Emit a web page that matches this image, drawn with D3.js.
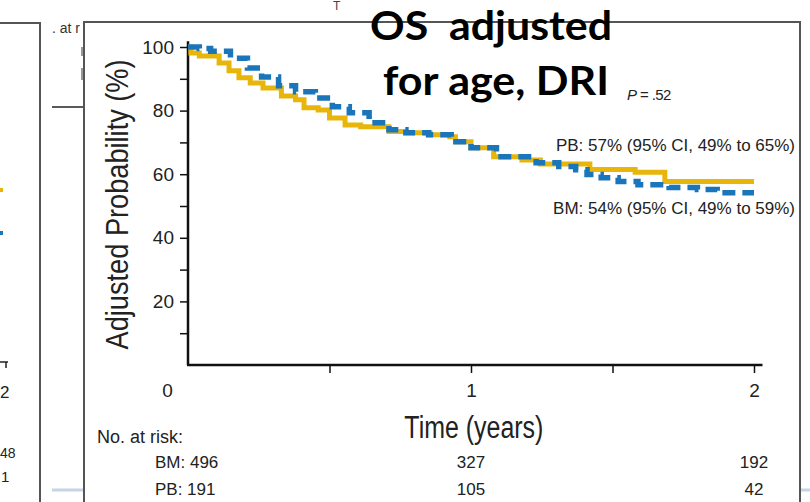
<!DOCTYPE html>
<html>
<head>
<meta charset="utf-8">
<script src="https://cdn.jsdelivr.net/npm/d3@7"></script>
<style>
body { margin: 0; background: #fff; }
svg { display: block; }
</style>
</head>
<body>
<div id="chart"></div>
<script>
// values (time in years, adjusted probability in %)
var bmTimes  = [0, 0.04, 0.08, 0.15, 0.21, 0.26, 0.32, 0.38, 0.45, 0.51, 0.57, 0.64, 0.71, 0.77, 0.85, 0.93, 1.00, 1.09, 1.23, 1.31, 1.37, 1.41, 1.46, 1.52, 1.59, 1.70, 1.80, 1.87, 2.00];
var bmValues = [100, 99.5, 98.7, 96.5, 93.4, 90.6, 87.8, 85.9, 84.0, 81.2, 79.3, 76.2, 74.0, 73.0, 72.4, 70.2, 68.3, 65.5, 63.6, 62.4, 61.4, 59.9, 58.9, 57.7, 56.7, 55.8, 55.2, 54.2, 54.2];

var pbTimes  = [0, 0.01, 0.04, 0.11, 0.145, 0.18, 0.22, 0.265, 0.33, 0.38, 0.41, 0.46, 0.50, 0.555, 0.61, 0.71, 0.77, 0.855, 0.925, 0.945, 1.00, 1.08, 1.18, 1.245, 1.42, 1.58, 1.685, 2.00];
var pbValues = [100, 98.1, 97.2, 95.0, 92.5, 90.3, 88.7, 87.1, 84.6, 83.4, 80.9, 80.2, 77.7, 75.5, 74.9, 73.4, 73.0, 72.4, 71.8, 70.2, 68.3, 65.5, 64.5, 63.2, 61.5, 60.6, 57.7, 57.7];

var xTickLabels = [0, 1, 2];
var xMinorTicks = [0.5, 1, 1.5, 2];
var yTickValues = [10, 20, 30, 40, 50, 60, 70, 80, 90, 100];
var riskTimes = [0, 1, 2];
var bmAtRisk = [496, 327, 192];
var pbAtRisk = [191, 105, 42];

var WIDTH = 810, HEIGHT = 502;
var YELLOW = '#E8B50A', BLUE = '#1B75BB';
var CHART_FONT = 'Liberation Sans, Arial, sans-serif';
var NARROW_FONT = 'Liberation Sans Narrow, Arial Narrow, Liberation Sans, sans-serif';

var svg = d3.select('#chart').append('svg')
	.attr('width', WIDTH)
	.attr('height', HEIGHT);

// ---- slide clutter behind the figure ----
var back = svg.append('g').attr('class', 'slide');
back.append('path').attr('d', 'M0,23H40V502').attr('fill', 'none').attr('stroke', '#555').attr('stroke-width', 2);
back.append('text').attr('x', 52).attr('y', 33).attr('font-family', CHART_FONT).attr('font-size', 14).attr('fill', '#333').text('. at r');
back.append('path').attr('d', 'M82,47V56M82,68V80').attr('stroke', '#777').attr('stroke-width', 1.5);
back.append('path').attr('d', 'M52,107H84').attr('stroke', '#222').attr('stroke-width', 1.5);
back.append('path').attr('d', 'M0,362H8M6,362V368').attr('fill', 'none').attr('stroke', '#222').attr('stroke-width', 1.5);
back.append('path').attr('d', 'M0,190H3').attr('stroke', YELLOW).attr('stroke-width', 4);
back.append('path').attr('d', 'M0,233H3').attr('stroke', BLUE).attr('stroke-width', 4);
back.append('text').attr('x', 0).attr('y', 398).attr('font-family', CHART_FONT).attr('font-size', 17).attr('fill', '#222').text('2');
back.append('text').attr('x', 0).attr('y', 458).attr('font-family', CHART_FONT).attr('font-size', 14).attr('fill', '#222').text('48');
back.append('text').attr('x', 1).attr('y', 482).attr('font-family', CHART_FONT).attr('font-size', 15).attr('fill', '#222').text('1');
back.append('path').attr('d', 'M52,490H83M801,490H810').attr('stroke', '#C5D4E8').attr('stroke-width', 3);
back.append('text').attr('x', 333).attr('y', 10).attr('font-family', CHART_FONT).attr('font-size', 12).attr('fill', '#444').text('T');

// main figure panel
svg.append('path')
	.attr('d', 'M84,505V22H800V505')
	.attr('fill', '#fff')
	.attr('stroke', '#555')
	.attr('stroke-width', 2);

// ---- scales ----
var x = d3.scaleLinear().domain([0, 2]).range([188, 754]);
var y = d3.scaleLinear().domain([0, 100]).range([365, 47]);

var g = svg.append('g').attr('class', 'plot');

// y axis
var yAxis = d3.axisLeft(y)
	.tickValues(yTickValues)
	.tickSize(8)
	.tickPadding(6)
	.tickFormat(function(d) { return d % 20 === 0 ? d : ''; });

var yG = g.append('g')
	.attr('transform', 'translate(' + x(0) + ',0)')
	.call(yAxis);
yG.select('.domain').remove();
yG.selectAll('.tick line').attr('stroke', '#111').attr('stroke-width', 1.5);
yG.selectAll('.tick text')
	.attr('font-family', CHART_FONT)
	.attr('font-size', 19)
	.attr('fill', '#222');

// x axis (ticks every half year, labels on whole years)
var xAxis = d3.axisBottom(x)
	.tickValues(xMinorTicks)
	.tickSize(8)
	.tickFormat('');
var xG = g.append('g')
	.attr('transform', 'translate(0,' + y(0) + ')')
	.call(xAxis);
xG.select('.domain').remove();
xG.selectAll('.tick line').attr('stroke', '#111').attr('stroke-width', 1.5);

var xLab = d3.axisBottom(x)
	.tickValues(xTickLabels)
	.tickSize(0)
	.tickPadding(19)
	.tickFormat(d3.format('d'));
var xLG = g.append('g')
	.attr('transform', 'translate(0,' + y(0) + ')')
	.call(xLab);
xLG.select('.domain').remove();
xLG.selectAll('.tick text')
	.attr('font-family', CHART_FONT)
	.attr('font-size', 19)
	.attr('fill', '#222')
	.attr('dx', function(d) { return d === 0 ? -21 : 0; });

// axis lines
g.append('line')
	.attr('x1', x(0)).attr('x2', x(0))
	.attr('y1', y(101.8)).attr('y2', y(0))
	.attr('stroke', '#111').attr('stroke-width', 2.5);
g.append('line')
	.attr('x1', x(0) - 1).attr('x2', x(2.03))
	.attr('y1', y(0)).attr('y2', y(0))
	.attr('stroke', '#111').attr('stroke-width', 2.5);

// axis titles
g.append('text')
	.attr('transform', 'translate(128,' + y(50.5) + ') rotate(-90)')
	.attr('text-anchor', 'middle')
	.attr('font-family', NARROW_FONT)
	.attr('font-size', 31)
	.attr('fill', '#222')
	.attr('textLength', 290)
	.attr('lengthAdjust', 'spacingAndGlyphs')
	.text('Adjusted Probability (%)');

g.append('text')
	.attr('x', x(1.01))
	.attr('y', 438)
	.attr('text-anchor', 'middle')
	.attr('font-family', NARROW_FONT)
	.attr('font-size', 31)
	.attr('fill', '#222')
	.attr('textLength', 139)
	.attr('lengthAdjust', 'spacingAndGlyphs')
	.text('Time (years)');

// ---- curves ----
var line = d3.line()
	.x(function(d) { return x(d[0]); })
	.y(function(d) { return y(d[1]); })
	.curve(d3.curveStepAfter);

var pbData = pbTimes.map(function(t, i) { return [t, pbValues[i]]; });
var bmData = bmTimes.map(function(t, i) { return [t, bmValues[i]]; });

g.append('path')
	.datum(pbData)
	.attr('d', line)
	.attr('fill', 'none')
	.attr('stroke', YELLOW)
	.attr('stroke-width', 5);

g.append('path')
	.datum(bmData)
	.attr('d', line)
	.attr('fill', 'none')
	.attr('stroke', BLUE)
	.attr('stroke-width', 5.5)
	.attr('stroke-dasharray', '13,7');

// ---- annotations ----
var p = g.append('text')
	.attr('x', 627).attr('y', 100)
	.attr('font-family', CHART_FONT)
	.attr('font-size', 15)
	.attr('letter-spacing', -0.6)
	.attr('fill', '#222');
p.append('tspan').attr('font-style', 'italic').text('P');
p.append('tspan').text(' = .52');

g.append('text')
	.attr('x', 795).attr('y', 151)
	.attr('text-anchor', 'end')
	.attr('font-family', CHART_FONT)
	.attr('font-size', 17)
	.attr('fill', '#222')
	.text('PB: 57% (95% CI, 49% to 65%)');

g.append('text')
	.attr('x', 795).attr('y', 214)
	.attr('text-anchor', 'end')
	.attr('font-family', CHART_FONT)
	.attr('font-size', 17)
	.attr('fill', '#222')
	.text('BM: 54% (95% CI, 49% to 59%)');

// ---- numbers at risk ----
var risk = g.append('g')
	.attr('font-family', CHART_FONT)
	.attr('font-size', 17)
	.attr('fill', '#222');

risk.append('text')
	.attr('x', 97).attr('y', 443)
	.attr('font-size', 18)
	.text('No. at risk:');

var rows = [
	{ name: 'BM', values: bmAtRisk, y: 468 },
	{ name: 'PB', values: pbAtRisk, y: 495 }
];

rows.forEach(function(row) {
	risk.selectAll(null)
		.data(riskTimes)
		.enter().append('text')
		.attr('x', function(d) { return d === 0 ? x(d) - 33 : x(d); })
		.attr('y', row.y)
		.attr('text-anchor', function(d) { return d === 0 ? 'start' : 'middle'; })
		.text(function(d, i) { return d === 0 ? row.name + ': ' + row.values[i] : row.values[i]; });
});

// ---- slide title ----
var title = svg.append('g')
	.attr('font-family', 'Lato, Open Sans, sans-serif')
	.attr('font-weight', 'bold')
	.attr('fill', '#000');
title.append('text')
	.attr('x', 491).attr('y', 40)
	.attr('text-anchor', 'middle')
	.attr('font-size', 41)
	.attr('textLength', 242)
	.attr('lengthAdjust', 'spacingAndGlyphs')
	.style('white-space', 'pre')
	.text('OS  adjusted');
title.append('text')
	.attr('x', 496).attr('y', 95)
	.attr('text-anchor', 'middle')
	.attr('font-size', 41)
	.attr('textLength', 226)
	.attr('lengthAdjust', 'spacingAndGlyphs')
	.text('for age, DRI');
</script>
</body>
</html>
